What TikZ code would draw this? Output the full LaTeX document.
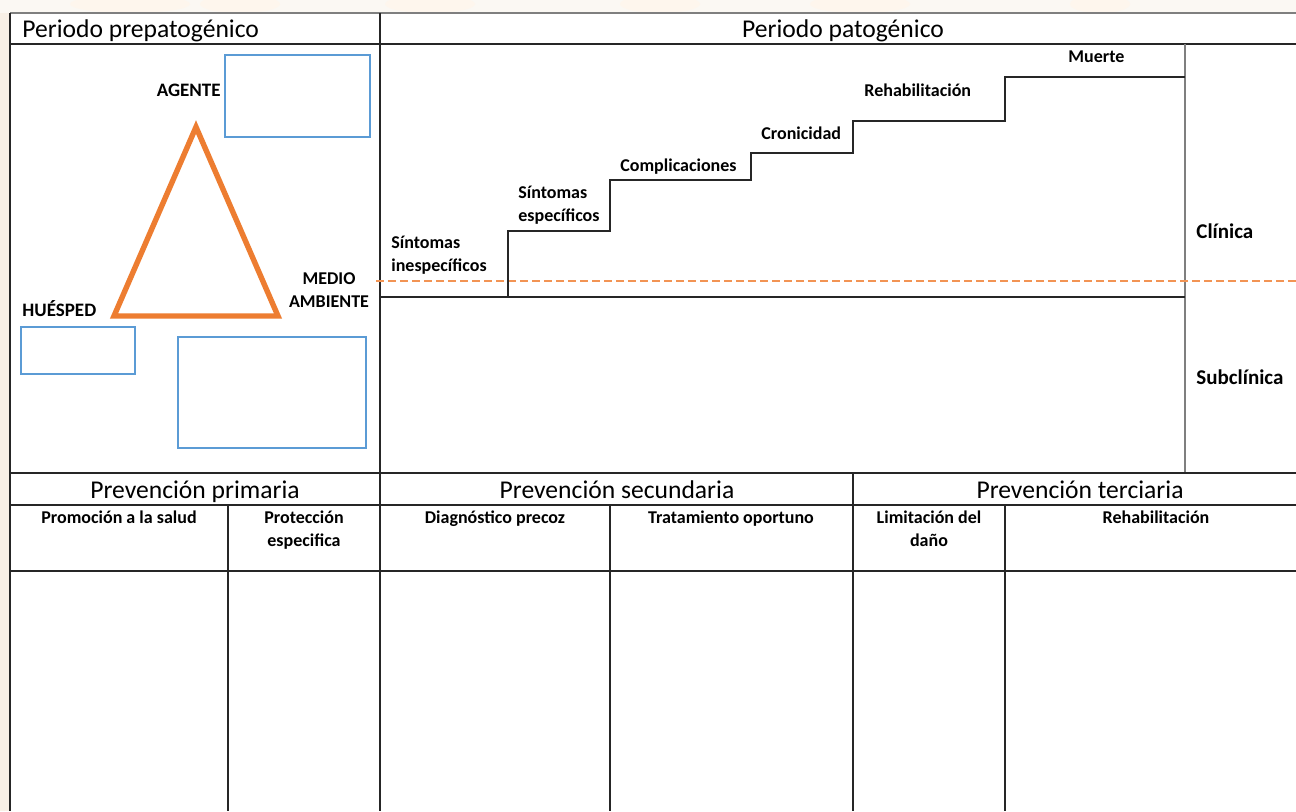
\documentclass[tikz,border=0pt]{standalone}
\usepackage{fontspec}
\setmainfont{Carlito}
\definecolor{gridline}{HTML}{262626}
\definecolor{topline}{HTML}{7F7F7F}
\definecolor{triorange}{HTML}{ED7D31}
\definecolor{dashorange}{HTML}{F29454}
\definecolor{boxblue}{HTML}{5B9BD5}
\definecolor{wmark}{HTML}{F8F0E6}
\begin{document}
\begin{tikzpicture}[x=0.5pt,y=-0.5pt,
  grid/.style={draw=gridline,line width=0.75pt},
  head/.style={font=\fontsize{12.8}{15}\selectfont,inner sep=0pt,anchor=base},
  lbl/.style={font=\bfseries\fontsize{9}{11.5}\selectfont,inner sep=0pt,anchor=base west,align=left},
  sub/.style={font=\bfseries\fontsize{9}{11.5}\selectfont,inner sep=0pt,anchor=base,align=center},
  side/.style={font=\bfseries\fontsize{10.5}{13}\selectfont,inner sep=0pt,anchor=base west},
  corner/.style={font=\bfseries\fontsize{9.5}{11.5}\selectfont,inner sep=0pt},
  factorbox/.style={draw=boxblue,line width=1pt},
  stair/.style={draw=gridline,line width=0.6pt}]
\useasboundingbox (0,0) rectangle (1296,811);
% faint background watermark
\fill[wmark] (0,0) rectangle (1296,811);
\fill[white!50!wmark] (0,0) rectangle (1296,13);
\foreach \cx/\w in {130/60,240/40,430/45,660/40,860/50,1100/30}
  \fill[wmark!80!orange!25] (\cx,4) ellipse ({\w} and 9);
\fill[white] (10,13) rectangle (1296,811);

% outer frame and table grid
\draw[draw=topline,line width=1pt] (10,13) -- (1296,13);
\draw[grid] (10,13) -- (10,811);
\draw[grid] (10,44) -- (1296,44);
\draw[grid] (380,13) -- (380,811);
\draw[grid,draw=topline] (1185,44) -- (1185,473);
\draw[grid] (380,297) -- (1185,297);
\draw[grid] (10,473) -- (1296,473);
\draw[grid] (10,505) -- (1296,505);
\draw[grid] (10,571) -- (1296,571);
\draw[grid] (228,505) -- (228,811);
\draw[grid] (610,505) -- (610,811);
\draw[grid] (853,473) -- (853,811);
\draw[grid] (1005,505) -- (1005,811);

% clinical horizon
\coordinate (hzA) at (376,281);
\coordinate (hzB) at (1296,281);
\draw[dashorange,line width=1.4pt,dash pattern=on 4pt off 2pt] (hzA) -- (hzB);

% staircase of the natural history
\draw[stair] (508,297) -- (508,231) -- (610,231) -- (610,180) -- (751,180)
  -- (751,153) -- (853,153) -- (853,121) -- (1005,121) -- (1005,77) -- (1185,77);

% epidemiological triad
\coordinate (tA) at (196,127);
\coordinate (tH) at (114,316);
\coordinate (tM) at (278,316);
\draw[triorange,line width=2.7pt,line join=miter] (tA) -- (tH) -- (tM) -- cycle;
\draw[factorbox] (225,55) rectangle (370,137);
\draw[factorbox] (21,327) rectangle (135,374);
\draw[factorbox] (178,337) rectangle (366,448);
\node[corner,anchor=base east] (agente) at (221,96) {AGENTE};
\node[corner,anchor=base west] (huesped) at (22,316) {HUÉSPED};
\node[corner,anchor=base,align=center,font=\bfseries\fontsize{9}{11.5}\selectfont] (medio) at (329,307) {MEDIO\\AMBIENTE};

% section headings
\node[head,anchor=base west] (hPre) at (22,37) {Periodo prepatogénico};
\node[head] (hPat) at (843,37) {Periodo patogénico};
\node[head] (hPrim) at (195,498) {Prevención primaria};
\node[head] (hSec) at (617,498) {Prevención secundaria};
\node[head] (hTer) at (1080,498) {Prevención terciaria};

% stages (multi-line nodes sit on the baseline of their last line)
\node[lbl] (s1) at (391,271) {Síntomas\\inespecíficos};
\node[lbl] (s2) at (518,221) {Síntomas\\específicos};
\node[lbl] (s3) at (620,171) {Complicaciones};
\node[lbl] (s4) at (761,139) {Cronicidad};
\node[lbl] (s5) at (864,96) {Rehabilitación};
\node[lbl] (s6) at (1068,62) {Muerte};
\node[side] (clin) at (1196,238) {Clínica};
\node[side] (subc) at (1196,384) {Subclínica};

% prevention levels
\node[sub] (p1) at (119,523) {Promoción a la salud};
\node[sub] (p2) at (304,546) {Protección\\especifica};
\node[sub] (p3) at (495,523) {Diagnóstico precoz};
\node[sub] (p4) at (731,523) {Tratamiento oportuno};
\node[sub] (p5) at (929,546) {Limitación del\\daño};
\node[sub] (p6) at (1156,523) {Rehabilitación};
\end{tikzpicture}
\end{document}
